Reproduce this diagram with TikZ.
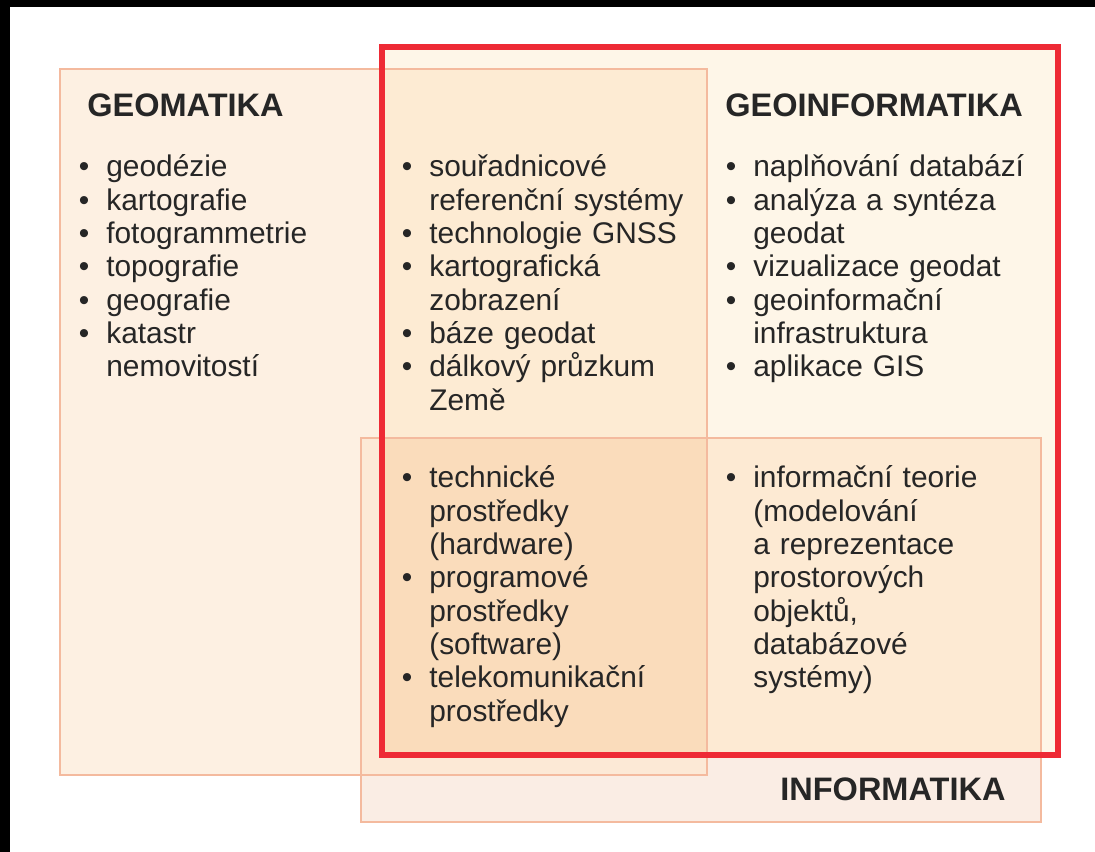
\documentclass[tikz,border=0pt]{standalone}
\usepackage{fontspec}
\setmainfont{Liberation Sans}
\usepackage{tikz}

\definecolor{geomatika}{HTML}{FDF0E2}
\definecolor{informatika}{HTML}{FAEDE4}
\definecolor{geoinformatika}{HTML}{FEF6E8}
\definecolor{geomInf}{HTML}{FCE9D6}
\definecolor{geomGeo}{HTML}{FDEBD3}
\definecolor{infGeo}{HTML}{FDEAD3}
\definecolor{vsechny}{HTML}{FADCBB}
\definecolor{hranice}{HTML}{F4BA9E}
\definecolor{cervena}{HTML}{EE2A35}

\newcommand{\bod}{\leavevmode\llap{\makebox[0.55cm][l]{\textbullet}}}

\tikzset{
    okraj/.style={draw=hranice, line width=0.85pt},
    nadpis/.style={anchor=base west, inner sep=0, font=\fontsize{18.5}{20}\selectfont\bfseries, text=black!85},
    seznam/.style={anchor=base west, inner sep=0, text width=7cm, align=left,
        font=\fontsize{17}{18.95}\selectfont, text=black!85}
}

\begin{document}
\begin{tikzpicture}
    \useasboundingbox (0, 0) rectangle (21.9, 17.04);
    \fill[white] (0, 0) rectangle (21.9, 17.04);
    \fill[black] (0, 16.9) rectangle (21.9, 17.04);
    \fill[black] (0, 0) rectangle (0.2, 17.04);

    % plochy
    \fill[geomatika] (1.2, 1.54) rectangle (14.14, 15.66);
    \fill[informatika] (7.22, 0.6) rectangle (20.82, 8.28);
    \fill[geoinformatika] (7.64, 1.94) rectangle (21.16, 16.1);
    \fill[geomInf] (7.22, 1.54) rectangle (14.14, 8.28);
    \fill[geomGeo] (7.64, 1.94) rectangle (14.14, 15.66);
    \fill[infGeo] (7.64, 1.94) rectangle (20.82, 8.28);
    \fill[vsechny] (7.64, 1.94) rectangle (14.14, 8.28);

    % okraje
    \draw[okraj] (1.2, 1.54) rectangle (14.14, 15.66);
    \draw[okraj] (7.22, 0.6) rectangle (20.82, 8.28);
    \draw[cervena, line width=3.7pt] (7.64, 1.94) rectangle (21.16, 16.1);

    % nadpisy
    \node[nadpis] (geomatika-nadpis) at (1.74, 14.7) {GEOMATIKA};
    \node[nadpis] (geoinformatika-nadpis) at (14.5, 14.7) {GEOINFORMATIKA};
    \node[nadpis] (informatika-nadpis) at (15.6, 1.02) {INFORMATIKA};

    % seznamy
    \node[seznam] (geomatika-seznam) at (2.12, 13.5)
        {\bod geodézie\\ \bod kartografie\\ \bod fotogrammetrie\\ \bod topografie\\
         \bod geografie\\ \bod katastr\\ nemovitostí};
    \node[seznam] (spolecne-seznam) at (8.58, 13.5)
        {\bod souřadnicové\\ referenční systémy\\ \bod technologie GNSS\\
         \bod kartografická\\ zobrazení\\ \bod báze geodat\\ \bod dálkový průzkum\\ Země};
    \node[seznam] (geoinformatika-seznam) at (15.06, 13.5)
        {\bod naplňování databází\\ \bod analýza a syntéza\\ geodat\\ \bod vizualizace geodat\\
         \bod geoinformační\\ infrastruktura\\ \bod aplikace GIS};
    \node[seznam] (prostredky-seznam) at (8.58, 7.28)
        {\bod technické\\ prostředky\\ (hardware)\\ \bod programové\\ prostředky\\ (software)\\
         \bod telekomunikační\\ prostředky};
    \node[seznam] (teorie-seznam) at (15.06, 7.28)
        {\bod informační teorie\\ (modelování\\ a reprezentace\\ prostorových\\ objektů,\\
         databázové\\ systémy)};
\end{tikzpicture}
\end{document}
